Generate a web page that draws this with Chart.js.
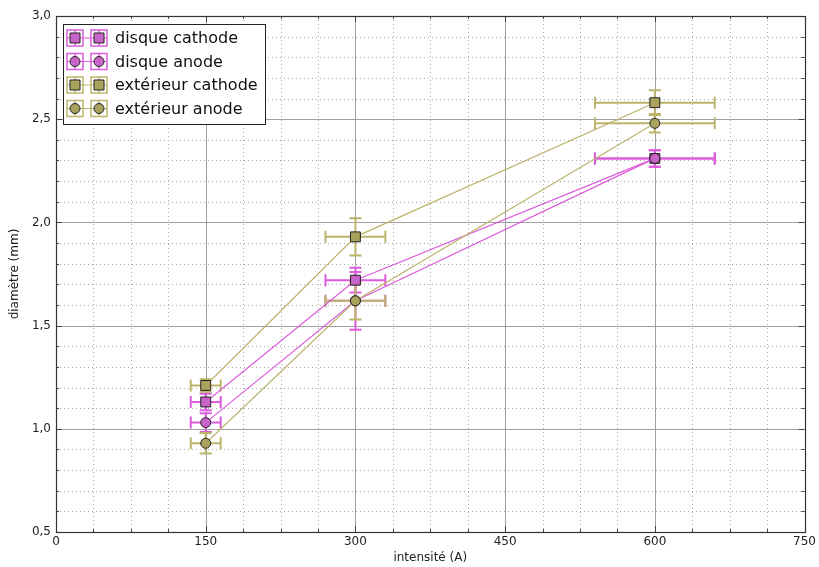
<!DOCTYPE html>
<html>
<head>
<meta charset="utf-8">
<script src="https://cdn.jsdelivr.net/npm/chart.js@4/dist/chart.umd.min.js"></script>
<style>
  html, body { margin: 0; padding: 0; background: #fff; }
  #wrap { width: 819px; height: 567px; }
</style>
</head>
<body>
<div id="wrap"><canvas id="chart" width="819" height="567"></canvas></div>
<script>
// donnees
const intensite = [150, 300, 600];
const errIntensite = [15, 30, 60];

const disqueCathode = [1.13, 1.72, 2.31];
const errDisqueCathode = [0.04, 0.06, 0.04];
const disqueAnode = [1.03, 1.62, 2.31];
const errDisqueAnode = [0.045, 0.14, 0.04];
const exterieurCathode = [1.21, 1.93, 2.58];
const errExterieurCathode = [0.03, 0.09, 0.06];
const exterieurAnode = [0.93, 1.62, 2.48];
const errExterieurAnode = [0.05, 0.09, 0.045];

const labels = ["disque cathode", "disque anode", "extérieur cathode", "extérieur anode"];
const xTicks = [0, 150, 300, 450, 600, 750];
const yTicks = [0.5, 1.0, 1.5, 2.0, 2.5, 3.0];

const violetLine = "#dc5cdc";
const violetFill = "#c863c8";
const oliveLine = "#bdb46c";
const oliveFill = "#a8a25c";

function serie(label, ys, errs, style, line, fill, ordre) {
  return {
    label: label,
    data: intensite.map((x, i) => ({ x: x, y: ys[i] })),
    errY: errs,
    errX: errIntensite,
    showLine: true,
    order: ordre,
    borderColor: line,
    borderWidth: 1.2,
    pointStyle: style,
    pointRadius: style === "rect" ? 7 : 5,
    pointBackgroundColor: fill,
    pointBorderColor: "#222",
    pointBorderWidth: 1,
    pointHoverRadius: 5,
  };
}

const datasets = [
  serie(labels[0], disqueCathode, errDisqueCathode, "rect", violetLine, violetFill, 4),
  serie(labels[1], disqueAnode, errDisqueAnode, "circle", violetLine, violetFill, 3),
  serie(labels[2], exterieurCathode, errExterieurCathode, "rect", oliveLine, oliveFill, 2),
  serie(labels[3], exterieurAnode, errExterieurAnode, "circle", oliveLine, oliveFill, 1),
];

// grille, barres d'erreur, cadre et legende
const decor = {
  id: "decor",
  beforeDatasetsDraw(chart) {
    const { ctx, chartArea: a, scales } = chart;
    const sx = scales.x, sy = scales.y;
    ctx.save();
    // grille mineure pointillee
    ctx.strokeStyle = "#aaa";
    ctx.lineWidth = 1;
    ctx.setLineDash([1, 3]);
    for (let v = 0; v <= 750; v += 37.5) {
      if (v % 150 === 0) continue;
      const px = Math.round(sx.getPixelForValue(v)) + 0.5;
      ctx.beginPath(); ctx.moveTo(px, a.top); ctx.lineTo(px, a.bottom); ctx.stroke();
    }
    for (let k = 5; k <= 30; k++) {
      if (k % 5 === 0) continue;
      const py = Math.round(sy.getPixelForValue(k / 10)) + 0.5;
      ctx.beginPath(); ctx.moveTo(a.left, py); ctx.lineTo(a.right, py); ctx.stroke();
    }
    // grille majeure
    ctx.setLineDash([]);
    ctx.strokeStyle = "#a0a0a0";
    xTicks.forEach(v => {
      const px = Math.round(sx.getPixelForValue(v)) + 0.5;
      ctx.beginPath(); ctx.moveTo(px, a.top); ctx.lineTo(px, a.bottom); ctx.stroke();
    });
    yTicks.forEach(v => {
      const py = Math.round(sy.getPixelForValue(v)) + 0.5;
      ctx.beginPath(); ctx.moveTo(a.left, py); ctx.lineTo(a.right, py); ctx.stroke();
    });
    // barres d'erreur
    chart.data.datasets.forEach(ds => {
      ctx.strokeStyle = ds.borderColor;
      ctx.lineWidth = 2;
      ds.data.forEach((p, i) => {
        const px = sx.getPixelForValue(p.x), py = sy.getPixelForValue(p.y);
        const x0 = sx.getPixelForValue(p.x - ds.errX[i]), x1 = sx.getPixelForValue(p.x + ds.errX[i]);
        const y0 = sy.getPixelForValue(p.y - ds.errY[i]), y1 = sy.getPixelForValue(p.y + ds.errY[i]);
        ctx.beginPath();
        ctx.moveTo(x0, py); ctx.lineTo(x1, py);
        ctx.moveTo(x0, py - 6); ctx.lineTo(x0, py + 6);
        ctx.moveTo(x1, py - 6); ctx.lineTo(x1, py + 6);
        ctx.moveTo(px, y0); ctx.lineTo(px, y1);
        ctx.moveTo(px - 6, y0); ctx.lineTo(px + 6, y0);
        ctx.moveTo(px - 6, y1); ctx.lineTo(px + 6, y1);
        ctx.stroke();
      });
    });
    ctx.restore();
  },
  afterDraw(chart) {
    const { ctx, chartArea: a, scales } = chart;
    const sx = scales.x, sy = scales.y;
    ctx.save();
    // graduations interieures
    ctx.strokeStyle = "#444";
    ctx.lineWidth = 1;
    for (let v = 0; v <= 750; v += 37.5) {
      const px = Math.round(sx.getPixelForValue(v)) + 0.5;
      const len = v % 150 === 0 ? 6 : 3;
      ctx.beginPath();
      ctx.moveTo(px, a.bottom); ctx.lineTo(px, a.bottom - len);
      ctx.moveTo(px, a.top); ctx.lineTo(px, a.top + len);
      ctx.stroke();
    }
    for (let k = 5; k <= 30; k++) {
      const py = Math.round(sy.getPixelForValue(k / 10)) + 0.5;
      const len = k % 5 === 0 ? 6 : 3;
      ctx.beginPath();
      ctx.moveTo(a.left, py); ctx.lineTo(a.left + len, py);
      ctx.moveTo(a.right, py); ctx.lineTo(a.right - len, py);
      ctx.stroke();
    }
    // cadre
    ctx.strokeStyle = "#333";
    ctx.lineWidth = 1.2;
    ctx.strokeRect(Math.round(a.left) + 0.5, Math.round(a.top) + 0.5,
      Math.round(a.right - a.left), Math.round(a.bottom - a.top));

    // legende
    const lx = 63, ly = 24, lw = 202, lh = 100;
    ctx.fillStyle = "#fff";
    ctx.fillRect(lx, ly, lw, lh);
    ctx.strokeStyle = "#222";
    ctx.lineWidth = 1;
    ctx.strokeRect(lx + 0.5, ly + 0.5, lw, lh);
    ctx.font = "16px 'DejaVu Sans'";
    ctx.textBaseline = "middle";
    chart.data.datasets.forEach((ds, i) => {
      const cy = ly + 14 + i * 23.5;
      ctx.strokeStyle = ds.borderColor;
      ctx.lineWidth = 1;
      ctx.beginPath(); ctx.moveTo(lx + 4, cy); ctx.lineTo(lx + 44, cy); ctx.stroke();
      [lx + 12, lx + 36].forEach(mx => {
        ctx.strokeStyle = ds.borderColor;
        ctx.lineWidth = 1.5;
        ctx.strokeRect(mx - 8, cy - 8, 16, 16);
        ctx.beginPath(); ctx.moveTo(mx, cy - 8); ctx.lineTo(mx, cy + 8); ctx.stroke();
        ctx.fillStyle = ds.pointBackgroundColor;
        ctx.strokeStyle = "#222";
        ctx.lineWidth = 1;
        ctx.beginPath();
        if (ds.pointStyle === "rect") {
          ctx.rect(mx - 5, cy - 5, 10, 10);
        } else {
          ctx.arc(mx, cy, 5, 0, Math.PI * 2);
        }
        ctx.fill(); ctx.stroke();
      });
      ctx.fillStyle = "#111";
      ctx.fillText(ds.label, lx + 52, cy + 1);
    });
    ctx.restore();
  },
};

new Chart(document.getElementById("chart"), {
  type: "scatter",
  data: { datasets: datasets },
  options: {
    responsive: false,
    animation: false,
    layout: { padding: { top: 16, right: 14, left: 0, bottom: 0 } },
    plugins: { legend: { display: false }, tooltip: { enabled: false } },
    scales: {
      x: {
        type: "linear", min: 0, max: 750,
        afterBuildTicks: s => { s.ticks = xTicks.map(v => ({ value: v })); },
        afterFit: s => { s.height = 35; },
        grid: { display: false, drawTicks: false },
        border: { display: false },
        ticks: { color: "#222", padding: 3, font: { family: "DejaVu Sans", size: 12 }, maxRotation: 0 },
        title: { display: true, text: "intensité (A)", color: "#222", padding: { top: 2, bottom: 2 }, font: { family: "DejaVu Sans", size: 12 } },
      },
      y: {
        type: "linear", min: 0.5, max: 3.0,
        afterBuildTicks: s => { s.ticks = yTicks.map(v => ({ value: v })); },
        afterFit: s => { s.width = 56; },
        grid: { display: false, drawTicks: false },
        border: { display: false },
        ticks: {
          color: "#222", padding: 5, font: { family: "DejaVu Sans", size: 12 },
          callback: v => v.toFixed(1).replace(".", ","),
        },
        title: { display: true, text: "diamètre (mm)", color: "#222", padding: { top: 8, bottom: 2 }, font: { family: "DejaVu Sans", size: 12 } },
      },
    },
  },
  plugins: [decor],
});
</script>
</body>
</html>
